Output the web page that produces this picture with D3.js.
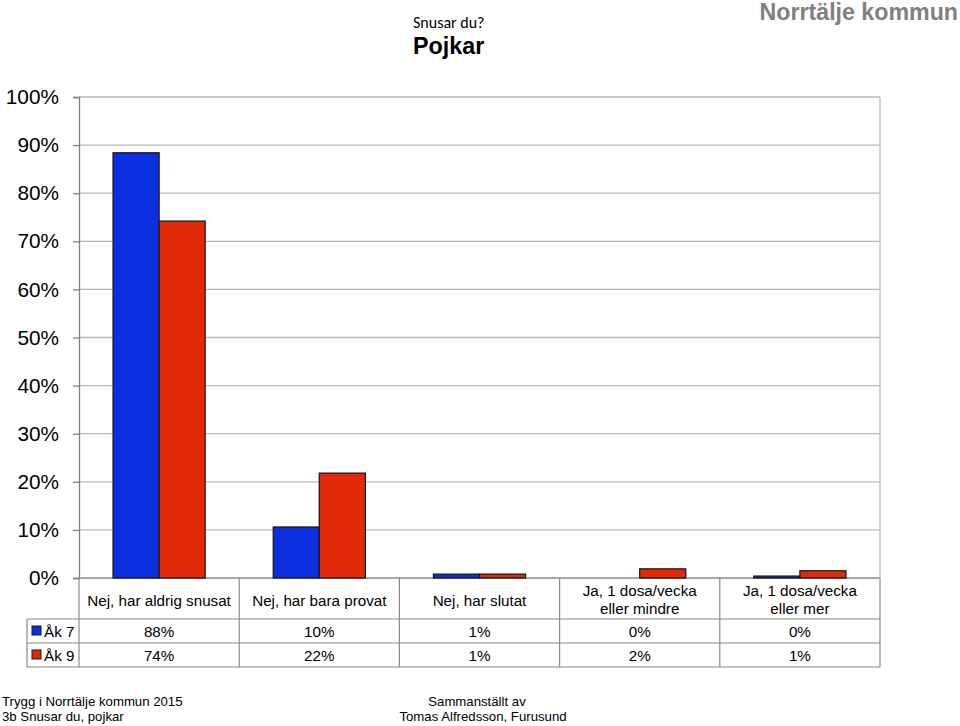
<!DOCTYPE html>
<html><head><meta charset="utf-8">
<script src="https://cdn.jsdelivr.net/npm/d3@7"></script>
<style>body{margin:0;background:#fff}svg{display:block}</style>
</head><body>
<script>
const categories = [["Nej, har aldrig snusat"],["Nej, har bara provat"],["Nej, har slutat"],["Ja, 1 dosa/vecka","eller mindre"],["Ja, 1 dosa/vecka","eller mer"]];
const seriesNames = ["Åk 7","Åk 9"];
const ak7 = [88.4, 10.6, 0.8, 0, 0.4];
const ak9 = [74.2, 21.8, 0.8, 1.9, 1.5];
const ak7Labels = ["88%","10%","1%","0%","0%"];
const ak9Labels = ["74%","22%","1%","2%","1%"];
const yTicks = [0,10,20,30,40,50,60,70,80,90,100];
const colors = ["#0a2ee0","#e32a08"];

(function(){
const W=960,H=726;
const svg=d3.select("body").append("svg").attr("width",W).attr("height",H);
const pL=79,pR=880,pT=97,pB=578;
const x=d3.scaleBand().domain(d3.range(categories.length)).range([pL,pR]);
const y=d3.scaleLinear().domain([0,100]).range([pB,pT]);
const xs=d3.scaleBand().domain([0,1]).range([0,x.bandwidth()]).paddingOuter(0.74).paddingInner(0);

svg.append("g").selectAll("line").data(yTicks).join("line")
 .attr("x1",pL).attr("x2",pR).attr("y1",d=>y(d)).attr("y2",d=>y(d))
 .attr("stroke",d=>d===0?"#8a8a8a":"#b8b8b8").attr("stroke-width",1.3);
svg.append("line").attr("x1",pR).attr("x2",pR).attr("y1",pT).attr("y2",pB).attr("stroke","#b8b8b8").attr("stroke-width",1.3);

const font="'Liberation Sans', Arial, sans-serif";
const ya=d3.axisLeft(y).tickValues(yTicks).tickFormat(d=>d+"%").tickSize(6).tickPadding(14);
const yg=svg.append("g").attr("transform",`translate(${pL},0)`).call(ya);
yg.select(".domain").attr("stroke","#808080").attr("stroke-width",1.3);
yg.selectAll(".tick line").attr("stroke","#808080").attr("stroke-width",1.3);
yg.selectAll("text").attr("font-family",font).attr("font-size",20.8).attr("fill","#000");

const series=[ak7,ak9];
series.forEach((vals,si)=>{
 svg.append("g").selectAll("rect").data(vals).join("rect")
  .attr("x",(d,i)=>x(i)+xs(si)).attr("width",xs.bandwidth())
  .attr("y",d=>y(d)).attr("height",d=>pB-y(d))
  .attr("fill",colors[si]).attr("stroke","#1a1a1a").attr("stroke-width",1.3)
  .attr("display",d=>d>0?null:"none");
});

const tLeft=27, r1=619, r2=643, r3=667;
const g=svg.append("g").attr("stroke","#8a8a8a").attr("stroke-width",1.2);
[r1,r2,r3].forEach(yy=>g.append("line").attr("x1",tLeft).attr("x2",pR).attr("y1",yy).attr("y2",yy));
g.append("line").attr("x1",tLeft).attr("x2",tLeft).attr("y1",r1).attr("y2",r3);
d3.range(categories.length+1).forEach(i=>{
 const xx=i<categories.length?x(i):pR;
 g.append("line").attr("x1",xx).attr("x2",xx).attr("y1",pB).attr("y2",r3);
});
const fs=15.2;
categories.forEach((c,i)=>{
 const cx=x(i)+x.bandwidth()/2;
 const t=svg.append("text").attr("font-family",font).attr("font-size",fs).attr("text-anchor","middle").attr("fill","#000");
 if(c.length===1){ t.append("tspan").attr("x",cx).attr("y",606).text(c[0]); }
 else { t.append("tspan").attr("x",cx).attr("y",596).text(c[0]); t.append("tspan").attr("x",cx).attr("y",614).text(c[1]); }
 svg.append("text").attr("font-family",font).attr("font-size",fs).attr("text-anchor","middle").attr("x",cx).attr("y",637).text(ak7Labels[i]);
 svg.append("text").attr("font-family",font).attr("font-size",fs).attr("text-anchor","middle").attr("x",cx).attr("y",661).text(ak9Labels[i]);
});
seriesNames.forEach((s,i)=>{
 const yy=[r1,r2][i];
 svg.append("rect").attr("x",32).attr("y",yy+7).attr("width",9).attr("height",9).attr("fill",colors[i]).attr("stroke","#1a1a1a").attr("stroke-width",1);
 svg.append("text").attr("font-family",font).attr("font-size",fs).attr("x",44).attr("y",yy+18).text(s);
});

svg.append("text").attr("x",413).attr("y",28).attr("font-family","Carlito, Calibri, 'Open Sans', sans-serif").attr("font-size",16).text("Snusar du?");
svg.append("text").attr("x",413).attr("y",54).attr("font-family",font).attr("font-weight","bold").attr("font-size",23.3).text("Pojkar");
svg.append("text").attr("x",958).attr("y",20).attr("text-anchor","end").attr("font-family",font).attr("font-weight","bold").attr("font-size",23.2).attr("fill","#808080").text("Norrtälje kommun");

const f1=svg.append("text").attr("font-family",font).attr("font-size",13.2).attr("fill","#000");
f1.append("tspan").attr("x",2).attr("y",706).text("Trygg i Norrtälje kommun 2015");
f1.append("tspan").attr("x",2).attr("y",721).text("3b Snusar du, pojkar");
const f2=svg.append("text").attr("font-family",font).attr("font-size",13.2).attr("text-anchor","middle").attr("fill","#000");
f2.append("tspan").attr("x",477).attr("y",706).text("Sammanställt av");
f2.append("tspan").attr("x",483).attr("y",721).text("Tomas Alfredsson, Furusund");
})();
</script>
</body></html>
